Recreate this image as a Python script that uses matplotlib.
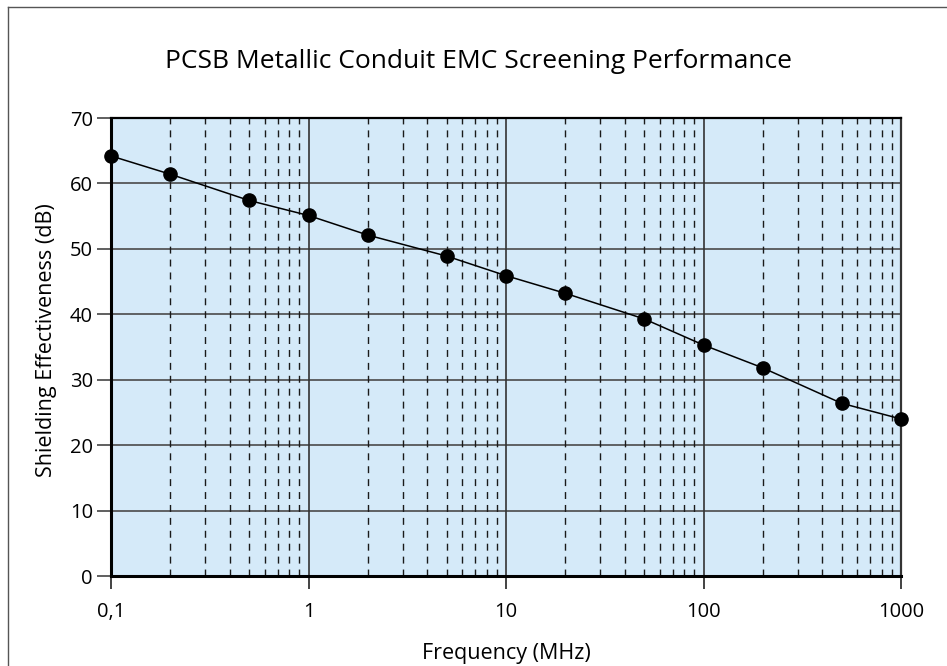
import matplotlib
matplotlib.use("Agg")
import matplotlib.pyplot as plt
from matplotlib.ticker import FixedLocator, FixedFormatter, NullFormatter
from matplotlib.lines import Line2D

plt.rcParams['font.family'] = ['Open Sans', 'DejaVu Sans']

freq = [0.1, 0.2, 0.5, 1, 2, 5, 10, 20, 50, 100, 200, 500, 1000]
se_db = [64.2, 61.4, 57.4, 55.1, 52.1, 48.9, 45.9, 43.2, 39.3, 35.3, 31.8, 26.4, 24.0]
x_ticks = [0.1, 1, 10, 100, 1000]
x_tick_labels = ["0,1", "1", "10", "100", "1000"]
y_ticks = [0, 10, 20, 30, 40, 50, 60, 70]
title = "PCSB Metallic Conduit EMC Screening Performance"

fig = plt.figure(figsize=(9.47, 6.66), dpi=100)
ax = fig.add_axes([111/947, 1 - 576/666, 790/947, 458/666])
ax.set_facecolor('#d5eaf9')

ax.set_xscale('log')
ax.set_xlim(0.1, 1000)
ax.set_ylim(0, 70)

minor = [m * d for d in [0.1, 1, 10, 100] for m in range(2, 10)]
ax.xaxis.set_major_locator(FixedLocator(x_ticks))
ax.xaxis.set_major_formatter(FixedFormatter(x_tick_labels))
ax.xaxis.set_minor_locator(FixedLocator(minor))
ax.xaxis.set_minor_formatter(NullFormatter())
ax.set_yticks(y_ticks)

ax.tick_params(axis='x', which='major', length=9, width=1.2, color='#222222',
               labelsize=14.5, pad=10, direction='out')
ax.tick_params(axis='x', which='minor', length=0)
ax.tick_params(axis='y', which='major', length=10, width=1.2, color='#444444',
               labelsize=14.5, pad=3)

for v in y_ticks[1:-1]:
    ax.axhline(v, color='#4a4a4a', lw=1.2, zorder=1)
for v in x_ticks[1:-1]:
    ax.axvline(v, color='#333333', lw=1.2, zorder=1)
for v in minor:
    ax.axvline(v, color='#1a1a1a', lw=1.0, dashes=(5, 4.3), zorder=1)

ax.plot(freq, se_db, color='black', lw=1.1, marker='o', markersize=9.5,
        markerfacecolor='black', markeredgecolor='black', zorder=3, clip_on=False)

for s in ['left', 'bottom']:
    ax.spines[s].set_linewidth(2.2)
    ax.spines[s].set_color('black')
ax.spines['top'].set_linewidth(1.6)
ax.spines['top'].set_color('black')
ax.spines['right'].set_linewidth(1.6)
ax.spines['right'].set_color('#333333')

ax.set_xlabel("Frequency (MHz)", fontsize=15.5, labelpad=15)
ax.set_ylabel("Shielding Effectiveness (dB)", fontsize=15.5)
ax.yaxis.set_label_coords(-(111 - 57) / 790, (576 - 340) / 458)
fig.text(478/947, 1 - 62/666, title, fontsize=19, ha='center', va='center')

# outer frame (left and top edges visible)
fig.add_artist(Line2D([8/947, 8/947], [0, 1 - 7/666], transform=fig.transFigure,
                      color='#555555', lw=1.0))
fig.add_artist(Line2D([8/947, 1], [1 - 7/666, 1 - 7/666], transform=fig.transFigure,
                      color='#555555', lw=1.0))

fig.savefig("out.png", dpi=100)
